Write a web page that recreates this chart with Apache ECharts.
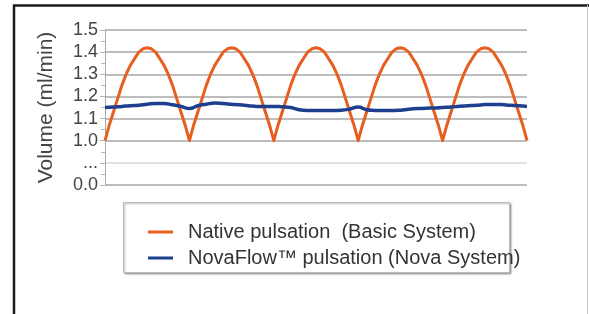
<!DOCTYPE html>
<html>
<head>
<meta charset="utf-8">
<script src="https://cdn.jsdelivr.net/npm/echarts@6/dist/echarts.min.js"></script>
<style>
  html, body { margin: 0; padding: 0; background: #fff; }
  #chart { width: 589px; height: 314px; }
</style>
</head>
<body>
<div id="chart"></div>
<script>
// y axis labels, bottom to top (the "..." marks a broken axis)
var yLabels = ['0.0', '...', '1.0', '1.1', '1.2', '1.3', '1.4', '1.5'];

// five pulse periods across the plot
var periods = 5;

// ml/min, native flow read every 1/20 of a period
var nativeFlow = [
    1.00, 1.07, 1.13, 1.19, 1.25, 1.30, 1.34, 1.37, 1.40, 1.415, 1.42, 1.415, 1.40, 1.37, 1.34, 1.30, 1.25, 1.19, 1.13, 1.07,
    1.00, 1.07, 1.13, 1.19, 1.25, 1.30, 1.34, 1.37, 1.40, 1.415, 1.42, 1.415, 1.40, 1.37, 1.34, 1.30, 1.25, 1.19, 1.13, 1.07,
    1.00, 1.07, 1.13, 1.19, 1.25, 1.30, 1.34, 1.37, 1.40, 1.415, 1.42, 1.415, 1.40, 1.37, 1.34, 1.30, 1.25, 1.19, 1.13, 1.07,
    1.00, 1.07, 1.13, 1.19, 1.25, 1.30, 1.34, 1.37, 1.40, 1.415, 1.42, 1.415, 1.40, 1.37, 1.34, 1.30, 1.25, 1.19, 1.13, 1.07,
    1.00, 1.07, 1.13, 1.19, 1.25, 1.30, 1.34, 1.37, 1.40, 1.415, 1.42, 1.415, 1.40, 1.37, 1.34, 1.30, 1.25, 1.19, 1.13, 1.07,
    1.00
];

// ml/min, NovaFlow read every 1/10 of a period
var novaFlow = [
    1.150, 1.152, 1.155, 1.158, 1.160, 1.165, 1.168, 1.168, 1.162, 1.155,
    1.145, 1.158, 1.165, 1.170, 1.168, 1.165, 1.162, 1.158, 1.155, 1.155,
    1.155, 1.153, 1.150, 1.140, 1.137, 1.137, 1.137, 1.137, 1.138, 1.143,
    1.152, 1.140, 1.137, 1.136, 1.136, 1.138, 1.142, 1.145, 1.147, 1.148,
    1.150, 1.152, 1.156, 1.158, 1.160, 1.163, 1.164, 1.163, 1.160, 1.158,
    1.155
];

var seriesNames = ['Native pulsation  (Basic System)', 'NovaFlow\u2122 pulsation (Nova System)'];

// map ml/min onto the broken axis: 1.0 sits at slot 2, each 0.1 is one slot
function toAxis(v) {
    return 2 + (v - 1.0) * 10;
}

// evenly spaced samples over the periods
function buildPoints(values) {
    var pts = [];
    var step = periods / (values.length - 1);
    for (var i = 0; i < values.length; i++) {
        pts.push([i * step, toAxis(values[i])]);
    }
    return pts;
}

var font = 'Liberation Sans, Arial, sans-serif';

var myChart = echarts.init(document.getElementById('chart'));
var option = {
    animation: false,
    grid: {
        left: 105,
        right: 62,
        top: 30,
        bottom: 129
    },
    xAxis: {
        type: 'value',
        min: 0,
        max: periods,
        axisLine: {show: false},
        axisTick: {show: false},
        axisLabel: {show: false},
        splitLine: {show: false}
    },
    yAxis: {
        type: 'value',
        min: 0,
        max: 7,
        interval: 1,
        name: 'Volume (ml/min)',
        nameLocation: 'middle',
        nameRotate: 90,
        nameGap: 48,
        nameTextStyle: {fontSize: 21, color: '#444', fontFamily: font},
        axisLine: {show: true, lineStyle: {color: '#aaa', width: 1}},
        axisTick: {show: true, length: 5, lineStyle: {color: '#b5b5b5'}},
        minorTick: {show: true, splitNumber: 2, length: 4, lineStyle: {color: '#b5b5b5'}},
        axisLabel: {
            fontSize: 18,
            color: '#444',
            fontFamily: font,
            margin: 7,
            formatter: function (v) {
                return yLabels[v];
            }
        },
        splitLine: {
            show: true,
            lineStyle: {
                width: 2,
                color: ['#bdbdbd', '#e2e2e2', '#bdbdbd', '#bdbdbd', '#bdbdbd', '#bdbdbd', '#bdbdbd', '#bdbdbd']
            }
        }
    },
    legend: {
        orient: 'vertical',
        left: 143,
        top: 217,
        itemWidth: 25,
        itemHeight: 3,
        itemGap: 6,
        icon: 'rect',
        textStyle: {fontSize: 20, color: '#333', fontFamily: font, padding: [0, 0, 0, 10]},
        data: seriesNames
    },
    series: [
        {
            name: seriesNames[0],
            type: 'line',
            data: buildPoints(nativeFlow),
            symbol: 'none',
            lineStyle: {color: '#e85e1e', width: 3, join: 'round'},
            itemStyle: {color: '#e85e1e'}
        },
        {
            name: seriesNames[1],
            type: 'line',
            data: buildPoints(novaFlow),
            smooth: true,
            symbol: 'none',
            lineStyle: {color: '#1d3f8e', width: 3.5},
            itemStyle: {color: '#1d3f8e'}
        }
    ],
    graphic: [
        {
            type: 'rect',
            shape: {x: 123.5, y: 202.5, width: 386, height: 70},
            style: {
                fill: '#fff',
                stroke: '#bbb',
                lineWidth: 1,
                shadowBlur: 2,
                shadowOffsetX: 1,
                shadowOffsetY: 1,
                shadowColor: 'rgba(0,0,0,0.35)'
            },
            z: -1
        },
        {
            type: 'line',
            shape: {x1: 13, y1: 5.5, x2: 589, y2: 5.5},
            style: {stroke: '#1a1a1a', lineWidth: 2.5}
        },
        {
            type: 'line',
            shape: {x1: 14, y1: 5, x2: 14, y2: 314},
            style: {stroke: '#1a1a1a', lineWidth: 2.5}
        },
        {
            type: 'line',
            shape: {x1: 587.5, y1: 5, x2: 587.5, y2: 314},
            style: {stroke: '#c8c8c8', lineWidth: 1}
        }
    ]
};
myChart.setOption(option);
</script>
</body>
</html>
